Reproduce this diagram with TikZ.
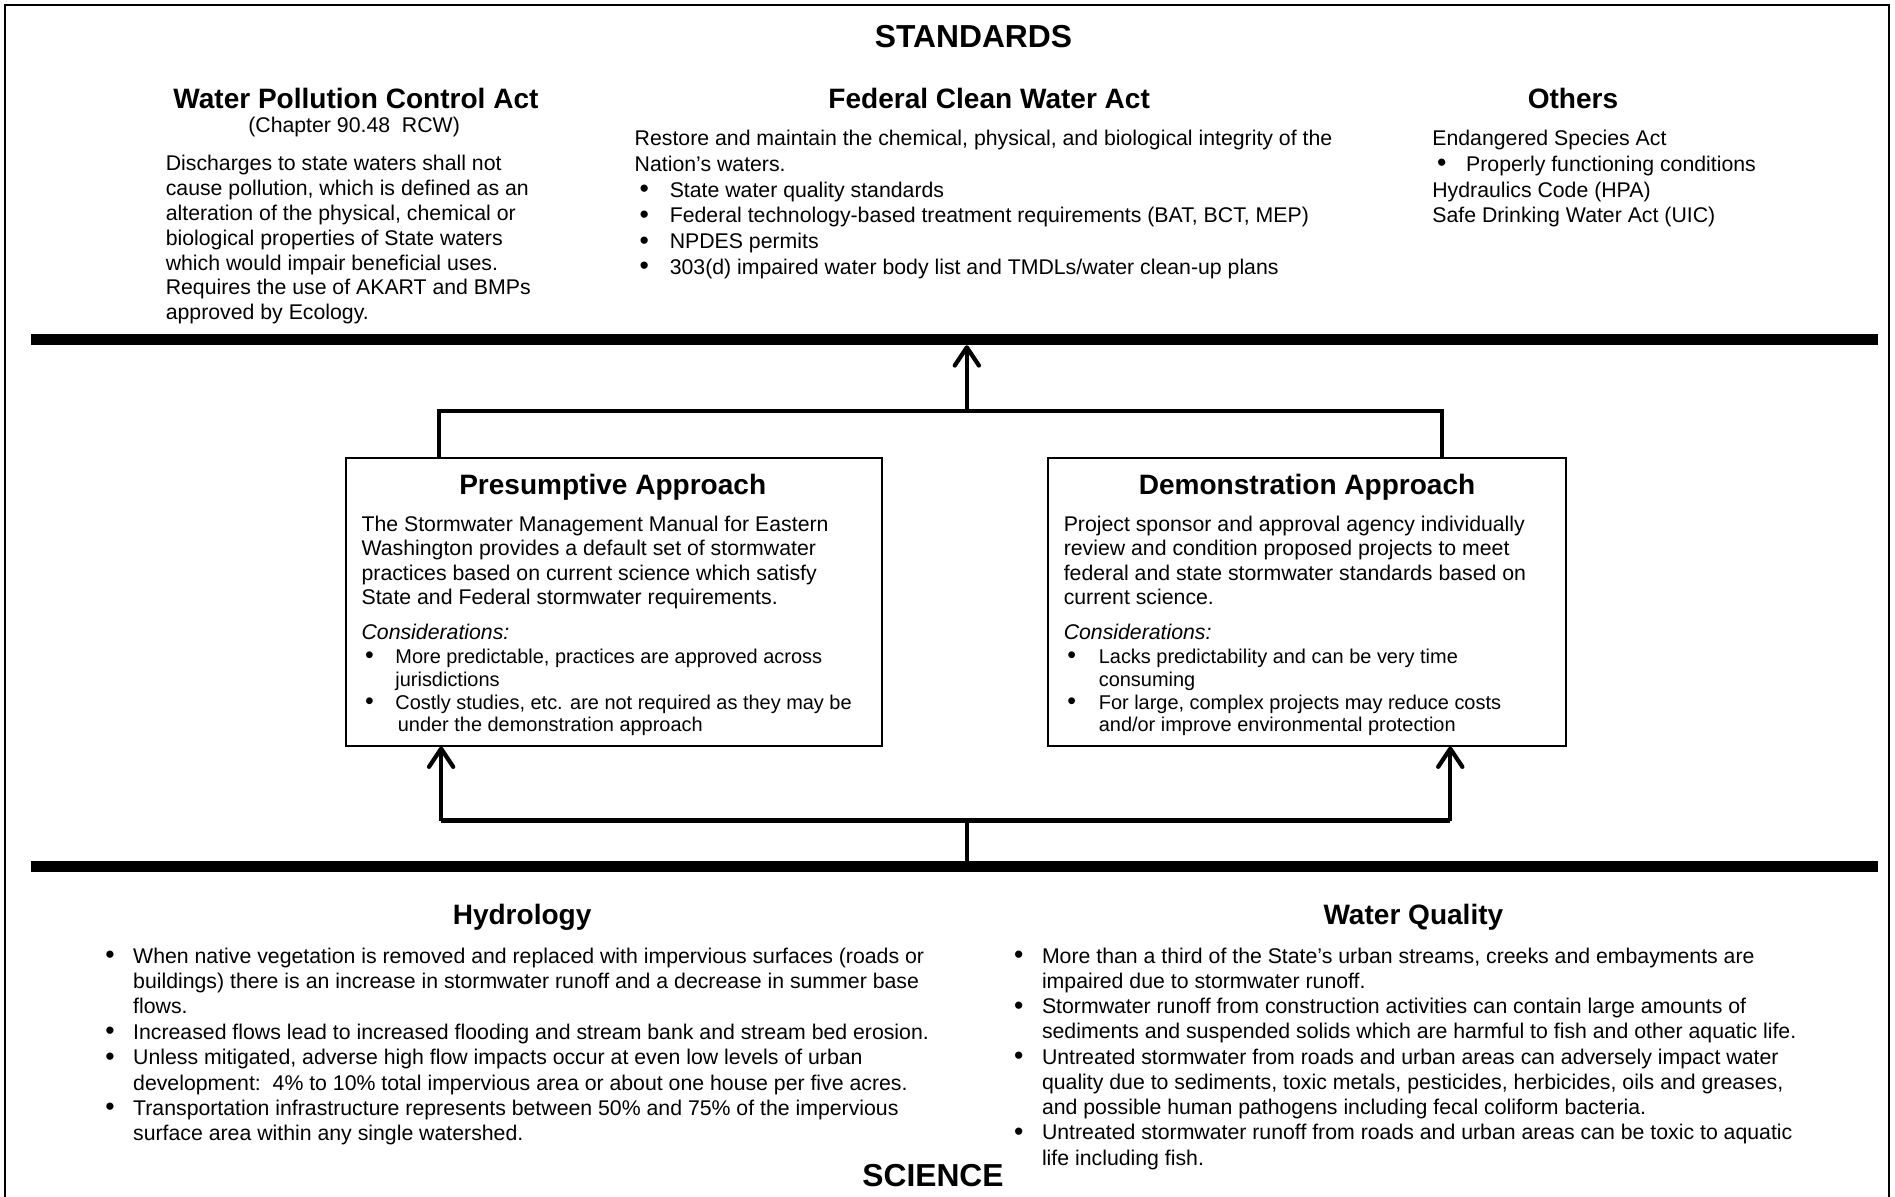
\documentclass[tikz,border=0pt]{standalone}
\usepackage{fontspec}
\setmainfont{Liberation Sans}
\usetikzlibrary{arrows.meta}
\newcommand\bulA[2]{\hspace*{#1pt}\makebox[#2pt][l]{\raisebox{-0.4pt}{\scalebox{1.25}{\textbullet}}}}
\begin{document}
\begin{tikzpicture}[x=1pt,y=-1pt,
  body/.style={font={\fontsize{17.6}{#1}\selectfont}, align=left, anchor=north west, inner sep=0pt,
    execute at begin node={\rule{0pt}{14pt}}},
  body/.default=20.5,
  small/.style={font={\fontsize{16.5}{19}\selectfont}, align=left, anchor=north west, inner sep=0pt,
    execute at begin node={\rule{0pt}{13pt}}},
  head/.style={font={\bfseries\fontsize{23.2}{27}\selectfont}, anchor=base, inner sep=0pt},
  big/.style={font={\bfseries\fontsize{26.3}{30}\selectfont}, anchor=base, inner sep=0pt},
  bar/.style={rectangle, fill=black, inner sep=0pt, minimum width=1528pt, minimum height=9pt},
  box/.style={rectangle, draw=black, line width=1.5pt, inner sep=0pt},
  conn/.style={line width=3.5pt},
  arr/.style={line width=3.5pt, -{Straight Barb[length=15pt,width=20pt,round]}}]
\useasboundingbox (0,0) rectangle (1568,990);
\fill[white] (0,0) rectangle (1568,990);
\draw[line width=2pt] (4,4) rectangle (1563,1010);

% bars
\node[bar] (topbar) at (790,281) {};
\node[bar] (botbar) at (790,717) {};

% standards
\node[big] (standards) at (805.5,39.4) {STANDARDS};
\node[head] (wpca) at (294.5,90) {Water Pollution Control Act};
\node[font={\fontsize{17.6}{20.5}\selectfont}, anchor=base, inner sep=0pt] (chap) at (293,109.5) {(Chapter 90.48\ \ RCW)};
\node[body=20.5] (wpcatext) at (137,128.5) {Discharges to state waters shall not\\
cause pollution, which is defined as an\\
alteration of the physical, chemical or\\
biological properties of State waters\\
which would impair beneficial uses.\\
Requires the use of AKART and BMPs\\
approved by Ecology.};

\node[head] (fcwa) at (818.5,90) {Federal Clean Water Act};
\node[body=21.3] (fcwatext) at (525,107.5) {Restore and maintain the chemical, physical, and biological integrity of the\\
Nation’s waters.\\
\bulA{4}{25}State water quality standards\\
\bulA{4}{25}Federal technology-based treatment requirements (BAT, BCT, MEP)\\
\bulA{4}{25}NPDES permits\\
\bulA{4}{25}303(d) impaired water body list and TMDLs/water clean-up plans};

\node[head] (others) at (1301.5,90) {Others};
\node[body=21.3] (otherstext) at (1185,107.5) {Endangered Species Act\\
\bulA{4}{24}Properly functioning conditions\\
Hydraulics Code (HPA)\\
Safe Drinking Water Act (UIC)};

% approach boxes
\node[box, minimum width=444pt, minimum height=238pt] (pres) at (508,498) {};
\node[box, minimum width=429pt, minimum height=238pt] (demo) at (1081.5,498) {};

\node[head] (prestitle) at (507,409) {Presumptive Approach};
\node[body=20.3] (prestext) at (299,426.5) {The Stormwater Management Manual for Eastern\\
Washington provides a default set of stormwater\\
practices based on current science which satisfy\\
State and Federal stormwater requirements.};
\node[body, font={\itshape\fontsize{17.6}{20.5}\selectfont}] (prescons) at (299,515) {Considerations:};
\node[small] (preslist) at (299,536.5) {\bulA{3}{25}More predictable, practices are approved across\\
\hspace*{28pt}jurisdictions\\
\bulA{3}{25}Costly studies, etc. are not required as they may be\\
\hspace*{30pt}under the demonstration approach};

\node[head] (demotitle) at (1081.5,409) {Demonstration Approach};
\node[body=20.3] (demotext) at (880,426.5) {Project sponsor and approval agency individually\\
review and condition proposed projects to meet\\
federal and state stormwater standards based on\\
current science.};
\node[body, font={\itshape\fontsize{17.6}{20.5}\selectfont}] (democons) at (880,515) {Considerations:};
\node[small] (demolist) at (880,536.5) {\bulA{3}{26}Lacks predictability and can be very time\\
\hspace*{29pt}consuming\\
\bulA{3}{26}For large, complex projects may reduce costs\\
\hspace*{29pt}and/or improve environmental protection};

% connectors
\coordinate (ul) at (363,340);
\coordinate (ur) at (1193,340);
\coordinate (uj) at (800,340);
\draw[conn] (pres.north -| ul) -- (ul) -- (ur) -- (demo.north -| ur);
\draw[arr] (uj) -- (uj |- topbar.south);

\coordinate (ll) at (365,679);
\coordinate (lr) at (1200,679);
\coordinate (lj) at (800,679);
\draw[line width=4pt] (ll) -- (lr);
\draw[arr] (ll) -- (ll |- pres.south);
\draw[arr] (lr) -- (lr |- demo.south);
\draw[line width=3pt] (lj |- botbar.north) -- (lj);

% science
\node[head] (hydro) at (432,765) {Hydrology};
\node[body=21] (hydrotext) at (84,784) {\bulA{3}{23}When native vegetation is removed and replaced with impervious surfaces (roads or\\
\hspace*{26pt}buildings) there is an increase in stormwater runoff and a decrease in summer base\\
\hspace*{26pt}flows.\\
\bulA{3}{23}Increased flows lead to increased flooding and stream bank and stream bed erosion.\\
\bulA{3}{23}Unless mitigated, adverse high flow impacts occur at even low levels of urban\\
\hspace*{26pt}development:\ \ 4\% to 10\% total impervious area or about one house per five acres.\\
\bulA{3}{23}Transportation infrastructure represents between 50\% and 75\% of the impervious\\
\hspace*{26pt}surface area within any single watershed.};

\node[head] (wq) at (1169.5,765) {Water Quality};
\node[body=20.9] (wqtext) at (836,784) {\bulA{3}{23}More than a third of the State’s urban streams, creeks and embayments are\\
\hspace*{26pt}impaired due to stormwater runoff.\\
\bulA{3}{23}Stormwater runoff from construction activities can contain large amounts of\\
\hspace*{26pt}sediments and suspended solids which are harmful to fish and other aquatic life.\\
\bulA{3}{23}Untreated stormwater from roads and urban areas can adversely impact water\\
\hspace*{26pt}quality due to sediments, toxic metals, pesticides, herbicides, oils and greases,\\
\hspace*{26pt}and possible human pathogens including fecal coliform bacteria.\\
\bulA{3}{23}Untreated stormwater runoff from roads and urban areas can be toxic to aquatic\\
\hspace*{26pt}life including fish.};

\node[big] (science) at (772,982) {SCIENCE};
\end{tikzpicture}
\end{document}
